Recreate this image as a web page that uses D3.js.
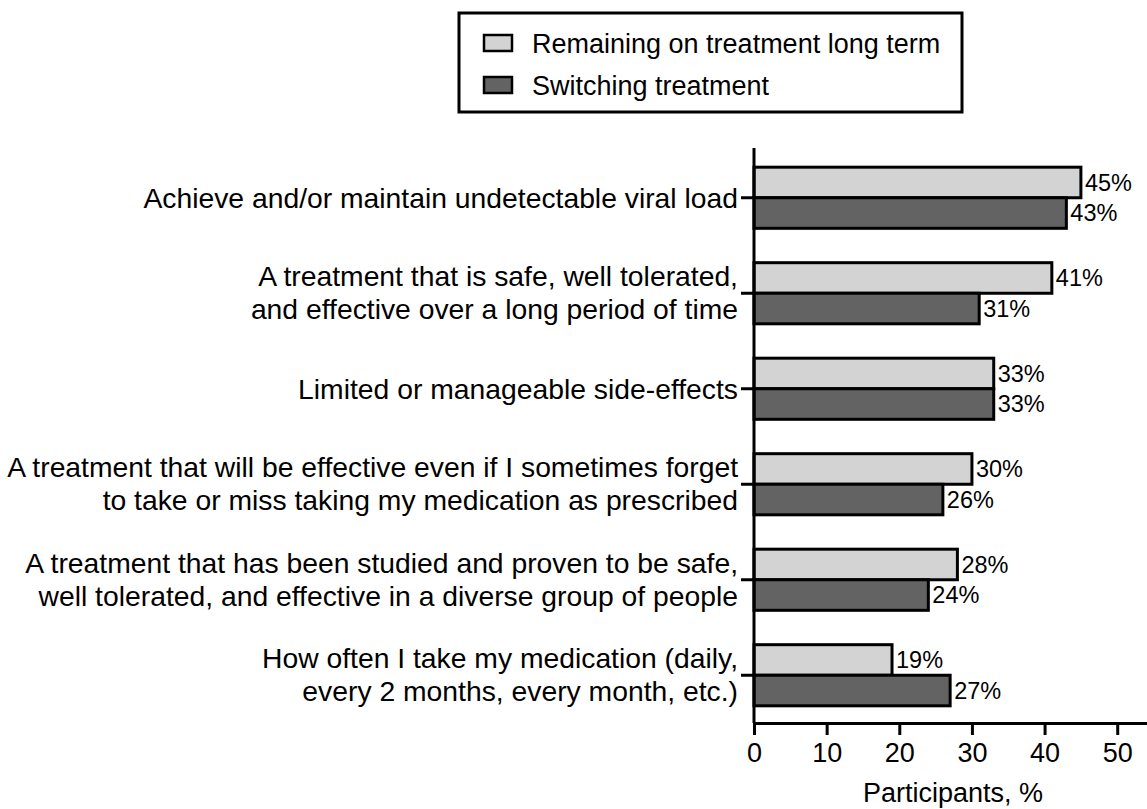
<!DOCTYPE html>
<html>
<head>
<meta charset="utf-8">
<script src="https://cdn.jsdelivr.net/npm/d3@7"></script>
<style>
  body { margin: 0; background: #fff; }
  text { font-family: "Liberation Sans", Arial, sans-serif; fill: #000; }
</style>
</head>
<body>
<svg id="chart" width="1147" height="809"></svg>
<script>
// data
var categories = [
    ["Achieve and/or maintain undetectable viral load"],
    ["A treatment that is safe, well tolerated,", "and effective over a long period of time"],
    ["Limited or manageable side-effects"],
    ["A treatment that will be effective even if I sometimes forget", "to take or miss taking my medication as prescribed"],
    ["A treatment that has been studied and proven to be safe,", "well tolerated, and effective in a diverse group of people"],
    ["How often I take my medication (daily,", "every 2 months, every month, etc.)"]
];
var series = ["Remaining on treatment long term", "Switching treatment"];
var remaining = [45, 41, 33, 30, 28, 19];
var switching = [43, 31, 33, 26, 24, 27];
var xTicks = [0, 10, 20, 30, 40, 50];

var colors = ["#d3d3d3", "#636363"];

var svg = d3.select("#chart");

var x = d3.scaleLinear().domain([0, 54.1]).range([754, 1147]);

var y0 = d3.scaleBand()
    .domain(d3.range(categories.length))
    .range([150, 723])
    .paddingInner(0.36)
    .paddingOuter(0.18);

var y1 = d3.scaleBand()
    .domain([0, 1])
    .range([0, y0.bandwidth()]);

var values = [remaining, switching];

// bars
var groups = svg.selectAll(".grp")
    .data(categories)
    .enter()
    .append("g")
    .attr("class", "grp")
    .attr("transform", function (d, i) { return "translate(0," + y0(i) + ")"; });

groups.each(function (d, i) {
    var g = d3.select(this);
    series.forEach(function (s, j) {
        var v = values[j][i];
        g.append("rect")
            .attr("x", x(0))
            .attr("y", y1(j))
            .attr("width", x(v) - x(0))
            .attr("height", y1.bandwidth())
            .attr("fill", colors[j])
            .attr("stroke", "#000")
            .attr("stroke-width", 3);
        g.append("text")
            .attr("x", x(v) + 4)
            .attr("y", y1(j) + y1.bandwidth() / 2)
            .attr("dy", "0.36em")
            .style("font-size", "23.5px")
            .text(v + "%");
    });
});

// x axis
var xAxis = svg.append("g")
    .attr("transform", "translate(0,723)")
    .call(d3.axisBottom(x).tickValues(xTicks).tickSize(12).tickSizeOuter(0).tickPadding(8));
xAxis.select(".domain").attr("stroke-width", 3);
xAxis.selectAll(".tick line").attr("stroke-width", 3);
xAxis.selectAll(".tick text").style("font-size", "27px").attr("font-family", null);

svg.append("text")
    .attr("x", 953)
    .attr("y", 802)
    .attr("text-anchor", "middle")
    .style("font-size", "27px")
    .text("Participants, %");

// y axis
var yAxis = svg.append("g")
    .attr("transform", "translate(754,0)")
    .call(d3.axisLeft(d3.scaleBand().domain(d3.range(categories.length)).range([150, 723]))
        .tickSize(13).tickSizeOuter(0).tickFormat(""));
yAxis.select(".domain").attr("d", "M0,148V723").attr("stroke-width", 3);
yAxis.selectAll(".tick line").attr("stroke-width", 3);
yAxis.selectAll(".tick").attr("transform", function (d) {
    return "translate(0," + (y0(d) + y0.bandwidth() / 2) + ")";
});
yAxis.selectAll(".tick text").remove();

yAxis.selectAll(".tick").each(function (d) {
    var lines = categories[d];
    var t = d3.select(this).append("text")
        .attr("text-anchor", "end")
        .attr("fill", "#000")
        .style("font-size", "28.3px");
    lines.forEach(function (line, k) {
        var offset = lines.length === 1 ? 10 : (k === 0 ? -7 : 26);
        t.append("tspan")
            .attr("x", -16)
            .attr("y", offset)
            .text(line);
    });
});

// legend
var legend = svg.append("g");
legend.append("rect")
    .attr("x", 459)
    .attr("y", 13)
    .attr("width", 503)
    .attr("height", 99)
    .attr("fill", "#fff")
    .attr("stroke", "#000")
    .attr("stroke-width", 3);

series.forEach(function (s, j) {
    var cy = 43 + j * 42;
    legend.append("rect")
        .attr("x", 484)
        .attr("y", cy - 8)
        .attr("width", 28)
        .attr("height", 16)
        .attr("fill", colors[j])
        .attr("stroke", "#000")
        .attr("stroke-width", 2.5);
    legend.append("text")
        .attr("x", 532)
        .attr("y", cy)
        .attr("dy", "0.36em")
        .style("font-size", "27px")
        .text(s);
});
</script>
</body>
</html>
